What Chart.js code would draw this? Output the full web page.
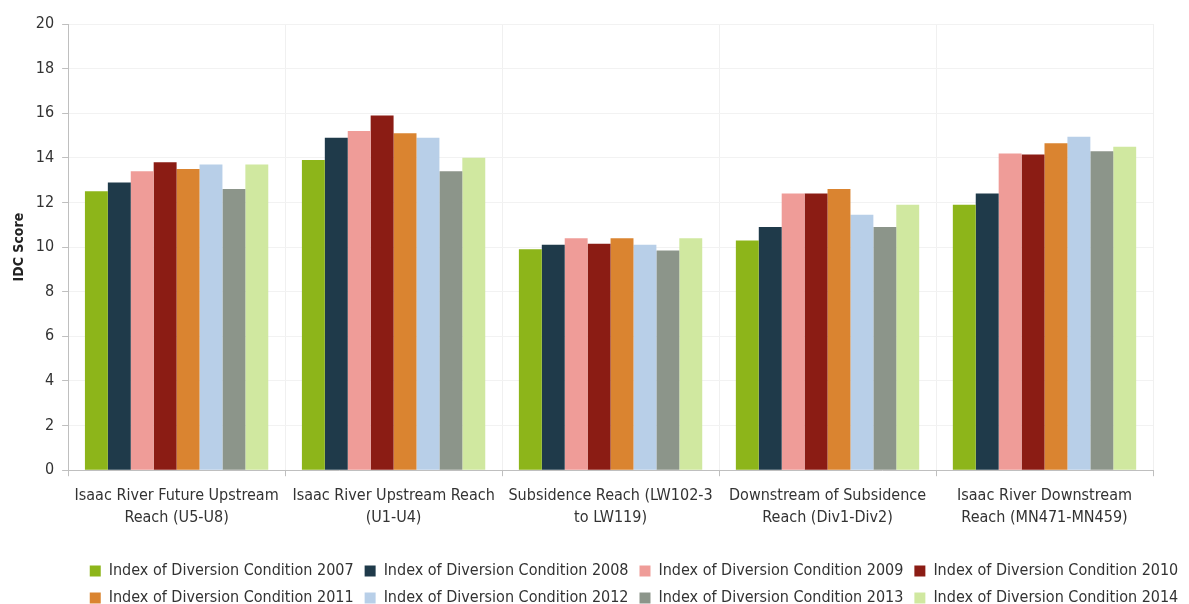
<!DOCTYPE html>
<html>
<head>
<meta charset="utf-8">
<script src="https://cdn.jsdelivr.net/npm/chart.js@4/dist/chart.umd.min.js"></script>
<style>
  html, body { margin: 0; padding: 0; background: #fff; }
  #wrap { width: 1189px; height: 604px; }
</style>
</head>
<body>
<div id="wrap"><canvas id="idcChart"></canvas></div>
<script>
const reaches = [
  ['Isaac River Future Upstream', 'Reach (U5-U8)'],
  ['Isaac River Upstream Reach', '(U1-U4)'],
  ['Subsidence Reach (LW102-3', 'to LW119)'],
  ['Downstream of Subsidence', 'Reach (Div1-Div2)'],
  ['Isaac River Downstream', 'Reach (MN471-MN459)'],
];

const years = ['2007', '2008', '2009', '2010', '2011', '2012', '2013', '2014'];

const idc2007 = [12.5, 13.9, 9.9, 10.3, 11.9];
const idc2008 = [12.9, 14.9, 10.1, 10.9, 12.4];
const idc2009 = [13.4, 15.2, 10.4, 12.4, 14.2];
const idc2010 = [13.8, 15.9, 10.15, 12.4, 14.15];
const idc2011 = [13.5, 15.1, 10.4, 12.6, 14.65];
const idc2012 = [13.7, 14.9, 10.1, 11.45, 14.95];
const idc2013 = [12.6, 13.4, 9.85, 10.9, 14.3];
const idc2014 = [13.7, 14.0, 10.4, 11.9, 14.5];

const seriesValues = [idc2007, idc2008, idc2009, idc2010, idc2011, idc2012, idc2013, idc2014];

const colors = [
  '#8db51a',
  '#1f3a4a',
  '#ef9c98',
  '#8b1c14',
  '#da8430',
  '#b8cfe8',
  '#8c958a',
  '#d0e8a0',
];

const fontFamily = '"Liberation Sans Narrow", "DejaVu Sans Condensed", sans-serif';

const datasets = [];
for (let i = 0; i < years.length; i++) {
  datasets.push({
    label: 'Index of Diversion Condition ' + years[i],
    data: seriesValues[i],
    backgroundColor: colors[i],
    borderWidth: 0,
    categoryPercentage: 0.845,
    barPercentage: 1.0,
  });
}

// the legend in the original sits a bit right of the plot centre
const shiftLegend = {
  id: 'shiftLegend',
  afterLayout(chart) {
    if (chart.legend) {
      chart.legend.left += 52;
      chart.legend.right += 52;
    }
  },
};

new Chart(document.getElementById('idcChart'), {
  type: 'bar',
  data: {
    labels: reaches,
    datasets: datasets,
  },
  plugins: [shiftLegend],
  options: {
    responsive: true,
    maintainAspectRatio: false,
    animation: false,
    layout: {
      padding: { top: 24, right: 36, left: 11, bottom: -12 },
    },
    plugins: {
      tooltip: { enabled: false },
      legend: {
        position: 'bottom',
        labels: {
          boxWidth: 11,
          boxHeight: 11,
          padding: 11,
          color: '#333',
          font: { family: fontFamily, size: 16 },
        },
      },
    },
    scales: {
      x: {
        grid: {
          offset: true,
          color: '#f0f0f0',
          tickColor: '#bfbfbf',
          tickLength: 6,
        },
        border: { color: '#bfbfbf' },
        ticks: {
          color: '#333',
          padding: 8,
          maxRotation: 0,
          font: { family: fontFamily, size: 16, lineHeight: 1.4 },
        },
        afterFit: function (scale) {
          scale.height += 15;
        },
      },
      y: {
        min: 0,
        max: 20,
        ticks: {
          stepSize: 2,
          color: '#333',
          padding: 8,
          font: { family: fontFamily, size: 16 },
        },
        grid: {
          color: '#f2f2f2',
          tickColor: '#bfbfbf',
          tickLength: 6,
        },
        border: { color: '#bfbfbf' },
        title: {
          display: true,
          text: 'IDC Score',
          color: '#222',
          font: { family: fontFamily, size: 14, weight: 'bold' },
          padding: { top: 0, bottom: 0 },
        },
      },
    },
  },
});
</script>
</body>
</html>
